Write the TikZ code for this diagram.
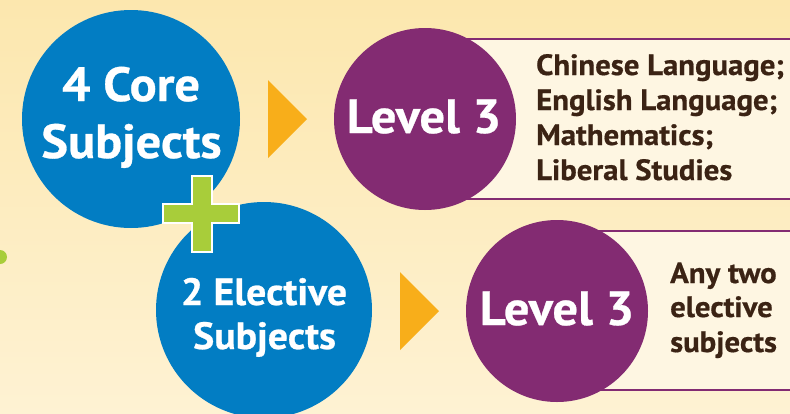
\documentclass[tikz,border=0pt]{standalone}
\usepackage{fontspec}
\setmainfont[FakeStretch=1.05, BoldFeatures={FakeBold=0.6}]{PT Sans}
\usetikzlibrary{shapes.geometric}
\definecolor{coreblue}{HTML}{027DC3}
\definecolor{lvlpurple}{HTML}{832B72}
\definecolor{arroworange}{HTML}{F8AE1A}
\definecolor{plusgreen}{HTML}{A8CD3A}
\definecolor{boxfill}{HTML}{FEF6E2}
\definecolor{txtbrown}{HTML}{3B2314}
\definecolor{bgtop}{HTML}{FCE7AE}
\definecolor{bgbot}{HTML}{FEF2D3}
\tikzset{
  bluecirc/.style={circle, fill=coreblue, inner sep=0pt, text=white, font=\bfseries},
  purplecirc/.style={circle, fill=lvlpurple, inner sep=0pt, text=white, font=\bfseries},
  listbox/.style={rectangle, fill=boxfill, draw=lvlpurple, line width=2.5pt, inner sep=0pt},
  listtext/.style={text=txtbrown, font=\fontsize{29.3}{35}\selectfont\bfseries, align=left, inner sep=0pt},
  bigtext/.style={text=white, font=\fontsize{48}{57}\selectfont\bfseries, inner sep=0pt},
  midtext/.style={text=white, font=\fontsize{38}{44}\selectfont\bfseries, inner sep=0pt},
  tri/.style={fill=arroworange},
}
\begin{document}
\begin{tikzpicture}[x=1pt,y=-1pt]
\useasboundingbox (0,0) rectangle (790,413);
\shade[top color=bgtop, bottom color=bgbot] (0,0) rectangle (790,413);
% green dot
\fill[plusgreen] (0,257) circle (7);
% boxes
\node[listbox, minimum width=380pt, minimum height=160pt] (box1) at (615,119) {};
\node[listbox, minimum width=250pt, minimum height=159pt] (box2) at (682,310.5) {};
% circles
\node[bluecirc, minimum size=218pt] (core) at (131,119) {};
\node[bluecirc, minimum size=216pt] (elective) at (264,310) {};
\node[purplecirc, minimum size=182pt] (lvl1) at (425,119) {};
\node[purplecirc, minimum size=182pt] (lvl2) at (557,311) {};
% triangles
\fill[tri] (268,80) -- (307,119) -- (268,158) -- cycle;
\fill[tri] (400,272) -- (439,311) -- (400,350) -- cycle;
% plus
\filldraw[fill=plusgreen, draw=white, line width=1.5pt]
  (192,176) -- (212,176) -- (212,204) -- (239,204) -- (239,223) -- (212,223)
  -- (212,252) -- (192,252) -- (192,223) -- (163,223) -- (163,204) -- (192,204) -- cycle;
% circle texts
\node[bigtext, anchor=base] (t1) at (131,101) {4 Core};
\node[bigtext, anchor=base] (t2) at (131.5,158) {Subjects};
\node[midtext, anchor=base] (t3) at (264,305) {2 Elective};
\node[midtext, anchor=base] (t4) at (264.5,349) {Subjects};
\node[bigtext, anchor=base] (l1) at (424,133) {Level 3};
\node[bigtext, anchor=base] (l2) at (557,325) {Level 3};
% list texts
\node[listtext, anchor=base west] (c1) at (536,75) {Chinese Language;};
\node[listtext, anchor=base west] (c2) at (536,110) {English Language;};
\node[listtext, anchor=base west] (c3) at (536,145) {Mathematics;};
\node[listtext, anchor=base west] (c4) at (536,180) {Liberal Studies};
\node[listtext, anchor=base west] (e1) at (670,283) {Any two};
\node[listtext, anchor=base west] (e2) at (670,317) {elective};
\node[listtext, anchor=base west] (e3) at (670,352) {subjects};
\end{tikzpicture}
\end{document}
